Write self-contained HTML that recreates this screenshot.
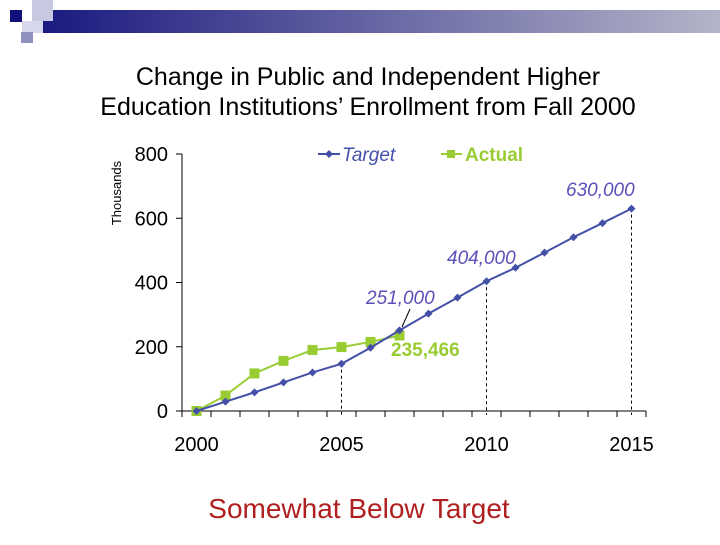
<!DOCTYPE html>
<html><head><meta charset="utf-8"><style>
body{margin:0;width:720px;height:540px;background:#fff;overflow:hidden;font-family:"Liberation Sans",sans-serif}
</style></head><body>
<svg width="720" height="540" xmlns="http://www.w3.org/2000/svg">
<defs><linearGradient id="g" x1="0" x2="1"><stop offset="0" stop-color="#1a1a80"/><stop offset="1" stop-color="#b4b4c8"/></linearGradient></defs>
<g>
<rect x="43" y="10" width="677" height="23" fill="url(#g)"/>
<rect x="10" y="10" width="12" height="12" fill="#10107a"/>
<rect x="32" y="0" width="21" height="21" fill="#c8c8e0"/>
<rect x="22" y="21" width="21" height="12" fill="#d8d8ec"/>
<rect x="21" y="32" width="12" height="11" fill="#9090c0"/>
</g>
<text x="368" y="85" text-anchor="middle" font-size="25">Change in Public and Independent Higher</text>
<text x="368" y="115" text-anchor="middle" font-size="25">Education Institutions’ Enrollment from Fall 2000</text>
<text transform="translate(121,193) rotate(-90)" text-anchor="middle" font-size="13">Thousands</text>
<g id="chart"></g>
<text x="359" y="518" text-anchor="middle" font-size="28" fill="#b02020">Somewhat Below Target</text>
</svg>
<script>
const years=[2000,2001,2002,2003,2004,2005,2006,2007,2008,2009,2010,2011,2012,2013,2014,2015];
const target=[0,29,58,89,120,147,197,251,303,353,404,446,493,541,585,630];
const actual=[0,48,117,156,190,199,215,235];
const yTicks=[0,200,400,600,800];
const xLabels=[2000,2005,2010,2015];
const ns="http://www.w3.org/2000/svg";
const g=document.getElementById('chart');
const x0=182,step=29,y0=411,sc=257/800;
const X=i=>x0+step/2+i*step, Y=v=>y0-v*sc;
function el(t,a,txt){const e=document.createElementNS(ns,t);for(const k in a)e.setAttribute(k,a[k]);if(txt!==undefined)e.textContent=txt;g.appendChild(e);return e;}
let e=el('line',{x1:x0,y1:Y(800),x2:x0,y2:y0,stroke:'#000'});

e=el('line',{x1:x0,y1:y0,x2:x0+16*step,y2:y0,stroke:'#000'});

yTicks.forEach(v=>{el('line',{x1:x0-6,x2:x0,y1:Y(v),y2:Y(v),stroke:'#000'});
 e=el('text',{x:x0-14,y:Y(v)+7,'text-anchor':'end','font-size':20},v);
 });
for(let i=0;i<=16;i++)el('line',{x1:x0+i*step,x2:x0+i*step,y1:y0,y2:y0+6,stroke:'#000'});
xLabels.forEach(yr=>{const i=years.indexOf(yr);
 e=el('text',{x:X(i),y:y0+40,'text-anchor':'middle','font-size':20},yr);
 });
[5,10,15].forEach(i=>{e=el('line',{x1:X(i),x2:X(i),y1:Y(target[i]),y2:y0+4,stroke:'#000','stroke-dasharray':'3,3'});
 });
e=el('polyline',{points:actual.map((v,i)=>X(i)+','+Y(v)).join(' '),fill:'none',stroke:'#99cc33','stroke-width':2});

actual.forEach((v,i)=>{e=el('rect',{x:X(i)-5,y:Y(v)-5,width:10,height:10,fill:'#99cc33'});
 });
e=el('polyline',{points:target.map((v,i)=>X(i)+','+Y(v)).join(' '),fill:'none',stroke:'#4450a8','stroke-width':2});

target.forEach((v,i)=>{e=el('polygon',{points:`${X(i)},${Y(v)-4} ${X(i)+4},${Y(v)} ${X(i)},${Y(v)+4} ${X(i)-4},${Y(v)}`,fill:'#4450a8'});
 });
function lab(t,x,y,c,it,n,bold,fs){e=el('text',{x:x,y:y,'font-size':fs||19,fill:c,'font-style':it?'italic':'normal','font-weight':bold?'bold':'normal'},t);
 }
lab('630,000',566,196,'#5a50b8',true,'label-630000');
lab('404,000',447,264,'#5a50b8',true,'label-404000');
lab('251,000',366,304,'#5a50b8',true,'label-251000');
lab('235,466',391,356,'#99cc33',false,'label-235466',true,19);
el('line',{x1:410,y1:309,x2:402,y2:327,stroke:'#000'});
el('line',{x1:318,x2:340,y1:154,y2:154,stroke:'#4450a8','stroke-width':2});
el('polygon',{points:'329,150 333,154 329,158 325,154',fill:'#4450a8'});
lab('Target',342,161,'#4450a8',true,'legend-target',false,19);
el('line',{x1:441,x2:462,y1:154,y2:154,stroke:'#99cc33','stroke-width':2});
el('rect',{x:447,y:150,width:8,height:8,fill:'#99cc33'});
lab('Actual',465,161,'#99cc33',false,'legend-actual',true,19);
</script>
</body></html>
